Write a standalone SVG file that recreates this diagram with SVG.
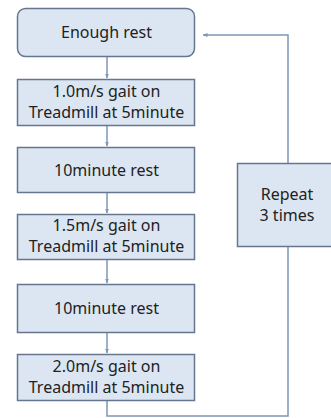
<svg xmlns="http://www.w3.org/2000/svg" width="331" height="418" viewBox="0 0 331 418">
<defs>
<marker id="ah" viewBox="0 0 10 10" refX="9" refY="5" markerWidth="5" markerHeight="5" orient="auto" markerUnits="userSpaceOnUse">
<path d="M0,1 L10,5 L0,9 Z" fill="#7f97b8"/>
</marker>
<style>
.box{fill:#dce6f2;stroke:#66768e;stroke-width:1.5}
.t{font-family:"Noto Sans","DejaVu Sans",sans-serif;font-size:16px;fill:#222222;text-anchor:middle}
.c{fill:none;stroke:#7f97b8;stroke-width:1.5}
</style>
</defs>
<rect width="331" height="418" fill="#ffffff"/>
<g id="connectors">
<line class="c" x1="107" y1="57" x2="107" y2="78" marker-end="url(#ah)"/>
<line class="c" x1="107" y1="126" x2="107" y2="146" marker-end="url(#ah)"/>
<line class="c" x1="107" y1="193" x2="107" y2="213" marker-end="url(#ah)"/>
<line class="c" x1="107" y1="260" x2="107" y2="283" marker-end="url(#ah)"/>
<line class="c" x1="107" y1="333" x2="107" y2="353" marker-end="url(#ah)"/>
<polyline class="c" points="107,401 107,416 288,416 288,35 203,35" marker-end="url(#ah)"/>
</g>
<g id="n1"><rect class="box" x="17.5" y="8.5" width="177" height="48" rx="8"/><text class="t" x="106.5" y="38">Enough rest</text></g>
<g id="n2"><rect class="box" x="17.5" y="79.5" width="177" height="46"/><text class="t" x="106.5" y="97">1.0m/s gait on</text><text class="t" x="106.5" y="118">Treadmill at 5minute</text></g>
<g id="n3"><rect class="box" x="17.5" y="147.5" width="177" height="45"/><text class="t" x="106.5" y="176">10minute rest</text></g>
<g id="n4"><rect class="box" x="17.5" y="214.5" width="177" height="45"/><text class="t" x="106.5" y="231">1.5m/s gait on</text><text class="t" x="106.5" y="252">Treadmill at 5minute</text></g>
<g id="n5"><rect class="box" x="17.5" y="284.5" width="177" height="48"/><text class="t" x="106.5" y="314">10minute rest</text></g>
<g id="n6"><rect class="box" x="17.5" y="354.5" width="177" height="46"/><text class="t" x="106.5" y="372">2.0m/s gait on</text><text class="t" x="106.5" y="393">Treadmill at 5minute</text></g>
<g id="n7"><rect class="box" x="237.5" y="163.5" width="100" height="83"/><text class="t" x="287" y="200">Repeat</text><text class="t" x="287" y="221">3 times</text></g>
</svg>
